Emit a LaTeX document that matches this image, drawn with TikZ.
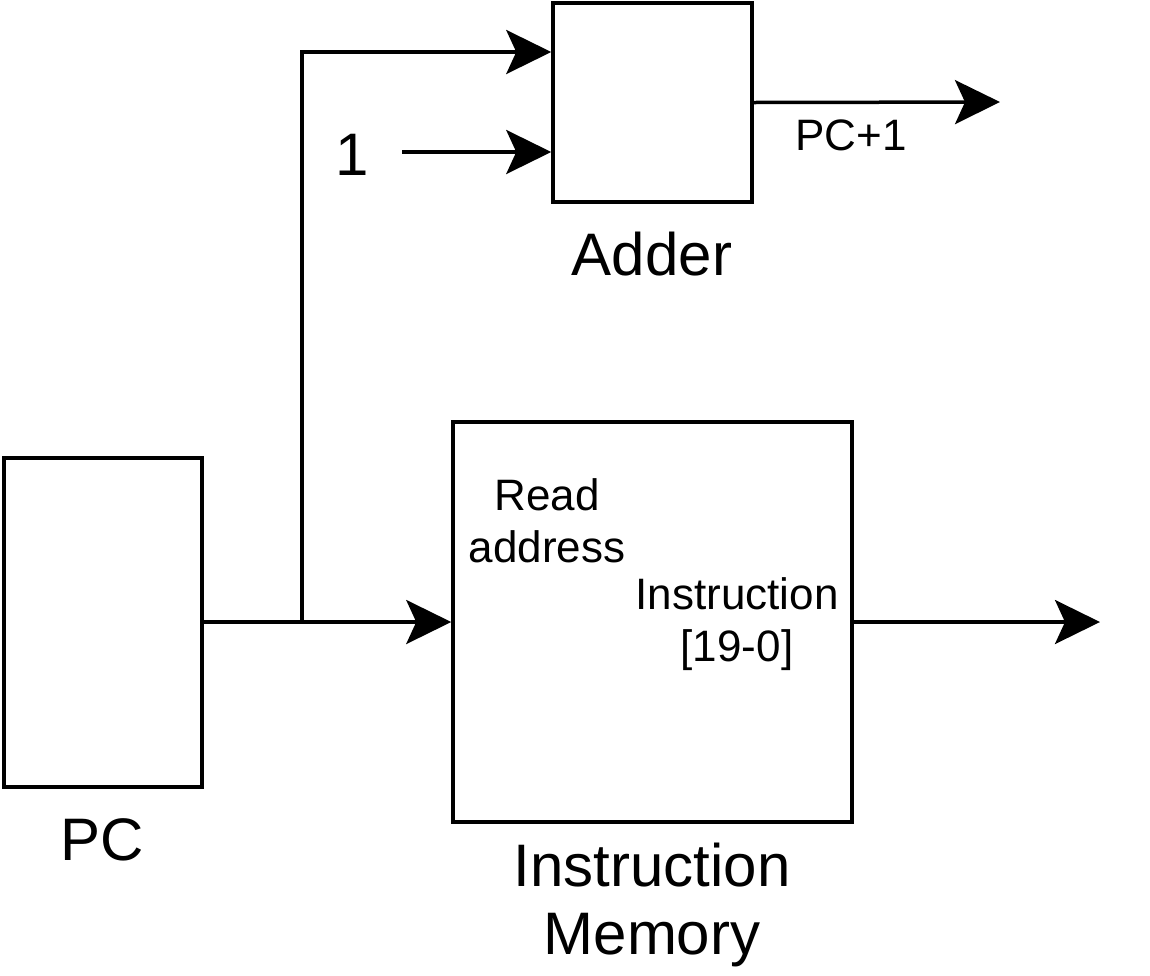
\documentclass[tikz,border=0pt]{standalone}
\usepackage{fontspec}
\setmainfont{Liberation Sans}
\usetikzlibrary{arrows.meta}
\begin{document}
\begin{tikzpicture}[x=1pt,y=-1pt,
  blk/.style={draw,line width=3.5pt,inner sep=0pt},
  wire/.style={line width=3.5pt},
  arr/.style={wire,-{Stealth[length=45pt,width=44pt,inset=10pt]}},
  big/.style={font=\fontsize{60}{68}\selectfont,inner sep=0pt,align=center},
  small/.style={font=\fontsize{44}{52}\selectfont,inner sep=0pt,align=center}]
\useasboundingbox (0,0) rectangle (1150,975);
% blocks
\node[blk,minimum width=198pt,minimum height=329pt] (pc) at (103,622.5) {};
\node[blk,minimum width=399pt,minimum height=400pt] (im) at (652.5,622) {};
\node[blk,minimum width=199pt,minimum height=199pt] (add) at (652.5,102.5) {};
% labels
\node[big,anchor=base] (pcl) at (102,860) {PC};
\node[big,anchor=base] (addl) at (652,275) {Adder};
\node[big,anchor=north] (iml) at (652,843) {Instruction\\Memory};
\node[big,anchor=base] (one) at (352,175) {1};
\node[small,anchor=base] (pcp) at (851,150) {PC+1};
\node[small,anchor=north] (ra) at (547,478) {Read\\address};
\node[small,anchor=north] (ins) at (737,577) {Instruction\\{[19-0]}};
% connectors
\coordinate (j) at (302,622);
\coordinate (oneout) at (402,152);
\coordinate (addout) at (1000,102);
\coordinate (imout) at (1100,622);
\draw[wire] (pc.east |- 0,622) -- (j);
\draw[arr] (j) -- (im.west |- j);
\draw[arr] (j) |- (add.west |- 0,52);
\draw[arr] (oneout) -- (add.west |- oneout);
\draw[arr] (add.east) -- (addout);
\draw[arr] (im.east) -- (imout);
\end{tikzpicture}
\end{document}
